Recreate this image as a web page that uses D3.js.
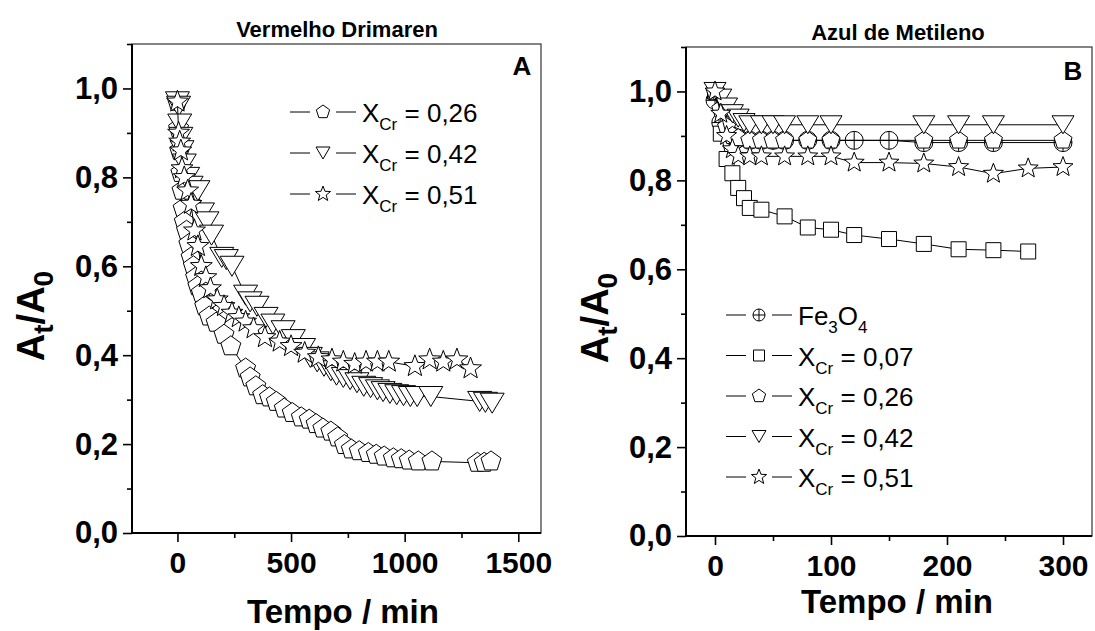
<!DOCTYPE html>
<html>
<head>
<meta charset="utf-8">
<script src="https://cdn.jsdelivr.net/npm/d3@7/dist/d3.min.js"></script>
<style>
  body { margin: 0; background: #fff; }
  svg text { font-family: "Liberation Sans", Arial, sans-serif; }
</style>
</head>
<body>
<div id="vis"></div>
<script>
// ---- Panel A : Vermelho Drimaren ----
var tA26 = [0,5,10,15,20,25,30,40,50,60,70,80,90,105,120,140,170,205,235,300,320,345,375,405,435,470,505,545,580,610,640,675,705,735,765,800,840,875,910,950,985,1020,1060,1120,1320,1350,1380];
var yA26 = [0.97,0.91,0.86,0.81,0.77,0.73,0.70,0.68,0.65,0.62,0.60,0.575,0.555,0.54,0.51,0.487,0.473,0.446,0.42,0.37,0.35,0.33,0.31,0.305,0.295,0.28,0.27,0.26,0.255,0.245,0.235,0.228,0.215,0.198,0.188,0.184,0.18,0.176,0.172,0.168,0.166,0.163,0.161,0.161,0.158,0.158,0.161];

var tA42 = [0,5,10,15,20,30,45,60,90,110,130,150,195,215,240,300,320,350,390,420,465,510,555,585,615,645,675,700,730,760,790,820,850,880,905,935,965,995,1025,1055,1115,1330,1355,1385];
var yA42 = [0.97,0.96,0.92,0.89,0.86,0.83,0.80,0.78,0.77,0.72,0.70,0.67,0.62,0.615,0.60,0.535,0.52,0.51,0.485,0.47,0.455,0.435,0.415,0.395,0.385,0.375,0.365,0.355,0.35,0.345,0.338,0.33,0.327,0.322,0.318,0.314,0.311,0.309,0.307,0.307,0.307,0.296,0.294,0.292];

var tA51 = [0,5,10,15,20,30,45,60,75,90,105,125,145,175,205,240,270,300,335,385,450,500,560,620,680,730,780,830,880,930,1045,1110,1170,1230,1290];
var yA51 = [0.97,0.90,0.88,0.86,0.82,0.80,0.77,0.74,0.68,0.645,0.60,0.575,0.55,0.525,0.51,0.495,0.485,0.475,0.46,0.44,0.43,0.42,0.405,0.395,0.39,0.385,0.38,0.385,0.385,0.385,0.375,0.39,0.385,0.39,0.37];

// ---- Panel B : Azul de Metileno ----
var tBfe = [0,5,10,15,20,30,40,50,60,80,100,120,150,180,210,240,300];
var yBfe = [0.98,0.93,0.91,0.90,0.895,0.89,0.89,0.89,0.89,0.89,0.89,0.89,0.89,0.885,0.885,0.885,0.885];

var tB07 = [0,5,10,15,20,25,30,40,60,80,100,120,150,180,210,240,270];
var yB07 = [1.0,0.905,0.848,0.816,0.783,0.76,0.738,0.734,0.719,0.694,0.689,0.677,0.668,0.657,0.645,0.643,0.64];

var tB26 = [0,5,10,15,20,30,40,50,60,80,100,180,210,240,300];
var yB26 = [1.0,0.96,0.92,0.90,0.895,0.89,0.89,0.89,0.89,0.89,0.89,0.89,0.89,0.89,0.89];

var tB42 = [0,5,10,15,20,25,30,40,50,60,80,100,180,210,240,300];
var yB42 = [1.0,0.985,0.965,0.95,0.94,0.93,0.925,0.925,0.925,0.925,0.925,0.925,0.925,0.925,0.925,0.925];

var tB51 = [0,5,10,15,20,30,40,60,80,100,120,150,180,210,240,270,300];
var yB51 = [1.0,0.95,0.90,0.87,0.855,0.854,0.854,0.854,0.854,0.854,0.84,0.84,0.838,0.83,0.815,0.827,0.83];

var yTicks = [0, 0.2, 0.4, 0.6, 0.8, 1.0];
var yMinor = [0.1, 0.3, 0.5, 0.7, 0.9, 1.1];
var xTicksA = [0, 500, 1000, 1500];
var xMinorA = [250, 750, 1250];
var xTicksB = [0, 100, 200, 300];
var xMinorB = [50, 150, 250];

// ---- marker shapes ----
function pentagon(r) {
    var p = d3.path();
    for (var k = 0; k < 5; k++) {
        var a = -Math.PI / 2 + k * 2 * Math.PI / 5;
        if (k == 0) p.moveTo(r * Math.cos(a), r * Math.sin(a));
        else p.lineTo(r * Math.cos(a), r * Math.sin(a));
    }
    p.closePath();
    return p.toString();
}
function triDown(w, h) {
    return `M${-w/2},${-h/2}L${w/2},${-h/2}L0,${h/2}Z`;
}
function star(R) {
    var ri = R * 0.42, p = d3.path();
    for (var k = 0; k < 10; k++) {
        var a = -Math.PI / 2 + k * Math.PI / 5, rr = k % 2 ? ri : R;
        if (k == 0) p.moveTo(rr * Math.cos(a), rr * Math.sin(a));
        else p.lineTo(rr * Math.cos(a), rr * Math.sin(a));
    }
    p.closePath();
    return p.toString();
}
function square(s) {
    return `M${-s/2},${-s/2}h${s}v${s}h${-s}Z`;
}
function circlePlus(r) {
    return `M${-r},0A${r},${r} 0 1 0 ${r},0A${r},${r} 0 1 0 ${-r},0M${-r},0L${r},0M0,${-r}L0,${r}`;
}

var fmtComma = (d) => d3.format('.1f')(d).replace('.', ',');

var svg = d3.select('#vis')
            .append('svg')
            .attr('width', 1095)
            .attr('height', 631);

var drawPanel = function(cfg) {
    var xScale = d3.scaleLinear().domain(cfg.xDomain).range([cfg.left, cfg.right]);
    var yScale = d3.scaleLinear().domain([0, 1.1]).range([cfg.bottom, cfg.top]);

    // axes, major and minor ticks
    var yAxisG = svg.append('g')
                    .attr('transform', `translate(${cfg.left},0)`)
                    .call(d3.axisLeft(yScale).tickValues(yTicks).tickFormat(fmtComma).tickSize(9).tickPadding(5));
    svg.append('g')
       .attr('transform', `translate(${cfg.left},0)`)
       .call(d3.axisLeft(yScale).tickValues(yMinor).tickFormat('').tickSize(5));
    var xAxisG = svg.append('g')
                    .attr('transform', `translate(0,${cfg.bottom})`)
                    .call(d3.axisBottom(xScale).tickValues(cfg.xTicks).tickFormat(d3.format('d')).tickSize(9).tickPadding(10));
    svg.append('g')
       .attr('transform', `translate(0,${cfg.bottom})`)
       .call(d3.axisBottom(xScale).tickValues(cfg.xMinor).tickFormat('').tickSize(5));

    svg.selectAll('.domain').remove();
    svg.selectAll('.tick line').attr('stroke', '#000').attr('stroke-width', 1.6);
    yAxisG.selectAll('text').attr('font-size', 31).attr('font-weight', 'bold').attr('fill', '#000');
    xAxisG.selectAll('text').attr('font-size', 30).attr('font-weight', 'bold').attr('fill', '#000');

    // frame
    svg.append('rect')
       .attr('x', cfg.left).attr('y', cfg.top)
       .attr('width', cfg.right - cfg.left).attr('height', cfg.bottom - cfg.top)
       .attr('fill', 'none').attr('stroke', '#333').attr('stroke-width', 1.2);
    svg.append('path')
       .attr('d', `M${cfg.left},${cfg.top}V${cfg.bottom}H${cfg.right}`)
       .attr('fill', 'none').attr('stroke', '#000').attr('stroke-width', 2);

    var line = d3.line().x((d) => xScale(d.t)).y((d) => yScale(d.v));

    cfg.series.forEach((s) => {
        var pts = s.t.map((t, i) => ({t: t, v: s.v[i]}));
        svg.append('path')
           .attr('d', line(pts))
           .attr('fill', 'none')
           .attr('stroke', '#000')
           .attr('stroke-width', 1);
        svg.append('g').selectAll('path')
           .data(pts)
           .enter()
           .append('path')
           .attr('d', s.shape)
           .attr('transform', (d) => `translate(${xScale(d.t)},${yScale(d.v)})`)
           .attr('fill', '#fff')
           .attr('stroke', '#000')
           .attr('stroke-width', 1);
    });

    // legend
    var legend = svg.selectAll('.legend-' + cfg.id)
                    .data(cfg.series.filter((s) => s.label))
                    .enter()
                    .append('g')
                    .attr('class', 'legend-' + cfg.id)
                    .attr('transform', (d, i) => `translate(${cfg.legX},${cfg.legY + i * cfg.legStep})`);
    legend.append('line')
          .attr('x1', 0).attr('x2', 20).attr('stroke', '#000').attr('stroke-width', 1);
    legend.append('line')
          .attr('x1', 46).attr('x2', 66).attr('stroke', '#000').attr('stroke-width', 1);
    legend.append('path')
          .attr('d', (d) => d.legShape)
          .attr('transform', 'translate(33,0)')
          .attr('fill', '#fff').attr('stroke', '#000').attr('stroke-width', 1);
    var lt = legend.append('text')
                   .attr('x', 72).attr('y', 10)
                   .attr('font-size', 26)
                   .attr('fill', '#000');
    lt.each(function(d) {
        var el = d3.select(this);
        d.label.forEach((part) => {
            var ts = el.append('tspan').text(part[0]);
            if (part[1]) ts.attr('font-size', 17).attr('dy', 8);
            else if (part[2]) ts.attr('dy', -8);
        });
    });

    // panel titles and letters
    svg.append('text')
       .attr('x', cfg.titleX).attr('y', cfg.titleY)
       .attr('text-anchor', 'middle')
       .attr('font-size', 22).attr('font-weight', 'bold')
       .text(cfg.title);
    svg.append('text')
       .attr('x', cfg.letterX).attr('y', cfg.letterY)
       .attr('text-anchor', 'middle')
       .attr('font-size', 26).attr('font-weight', 'bold')
       .text(cfg.letter);

    svg.append('text')
       .attr('x', cfg.xTitleX).attr('y', cfg.xTitleY)
       .attr('text-anchor', 'middle')
       .attr('font-size', 33).attr('font-weight', 'bold')
       .text('Tempo / min');

    var yt = svg.append('text')
                .attr('transform', `translate(${cfg.yTitleX},${cfg.yTitleY}) rotate(-90)`)
                .attr('text-anchor', 'middle')
                .attr('font-size', 38).attr('font-weight', 'bold');
    yt.append('tspan').text('A');
    yt.append('tspan').text('t').attr('font-size', 28).attr('dy', 9);
    yt.append('tspan').text('/A').attr('dy', -9);
    yt.append('tspan').text('0').attr('font-size', 28).attr('dy', 9);
};

var xcr = (v) => [['X'], ['Cr', true], [' = ' + v, false, true]];

drawPanel({
    id: 'a', left: 132, right: 541, top: 44, bottom: 533,
    xDomain: [-200, 1600], xTicks: xTicksA, xMinor: xMinorA,
    title: 'Vermelho Drimaren', titleX: 337, titleY: 37,
    letter: 'A', letterX: 522, letterY: 75,
    xTitleX: 343, xTitleY: 623, yTitleX: 44, yTitleY: 316,
    legX: 290, legY: 112, legStep: 41,
    series: [
        {t: tA26, v: yA26, shape: pentagon(10.5), legShape: pentagon(7), label: xcr('0,26')},
        {t: tA42, v: yA42, shape: triDown(24, 20), legShape: triDown(14, 12), label: xcr('0,42')},
        {t: tA51, v: yA51, shape: star(11.5), legShape: star(8), label: xcr('0,51')}
    ]
});

drawPanel({
    id: 'b', left: 686, right: 1092, top: 47, bottom: 536,
    xDomain: [-25, 325], xTicks: xTicksB, xMinor: xMinorB,
    title: 'Azul de Metileno', titleX: 898, titleY: 40,
    letter: 'B', letterX: 1073, letterY: 80,
    xTitleX: 897, xTitleY: 613, yTitleX: 608, yTitleY: 318,
    legX: 726, legY: 315, legStep: 40.5,
    series: [
        {t: tBfe, v: yBfe, shape: circlePlus(9), legShape: circlePlus(6), label: [['Fe'], ['3', true], ['O', false, true], ['4', true]]},
        {t: tB07, v: yB07, shape: square(15), legShape: square(11), label: xcr('0,07')},
        {t: tB26, v: yB26, shape: pentagon(9.5), legShape: pentagon(7), label: xcr('0,26')},
        {t: tB42, v: yB42, shape: triDown(22, 18), legShape: triDown(14, 12), label: xcr('0,42')},
        {t: tB51, v: yB51, shape: star(10.5), legShape: star(8), label: xcr('0,51')}
    ]
});
</script>
</body>
</html>
